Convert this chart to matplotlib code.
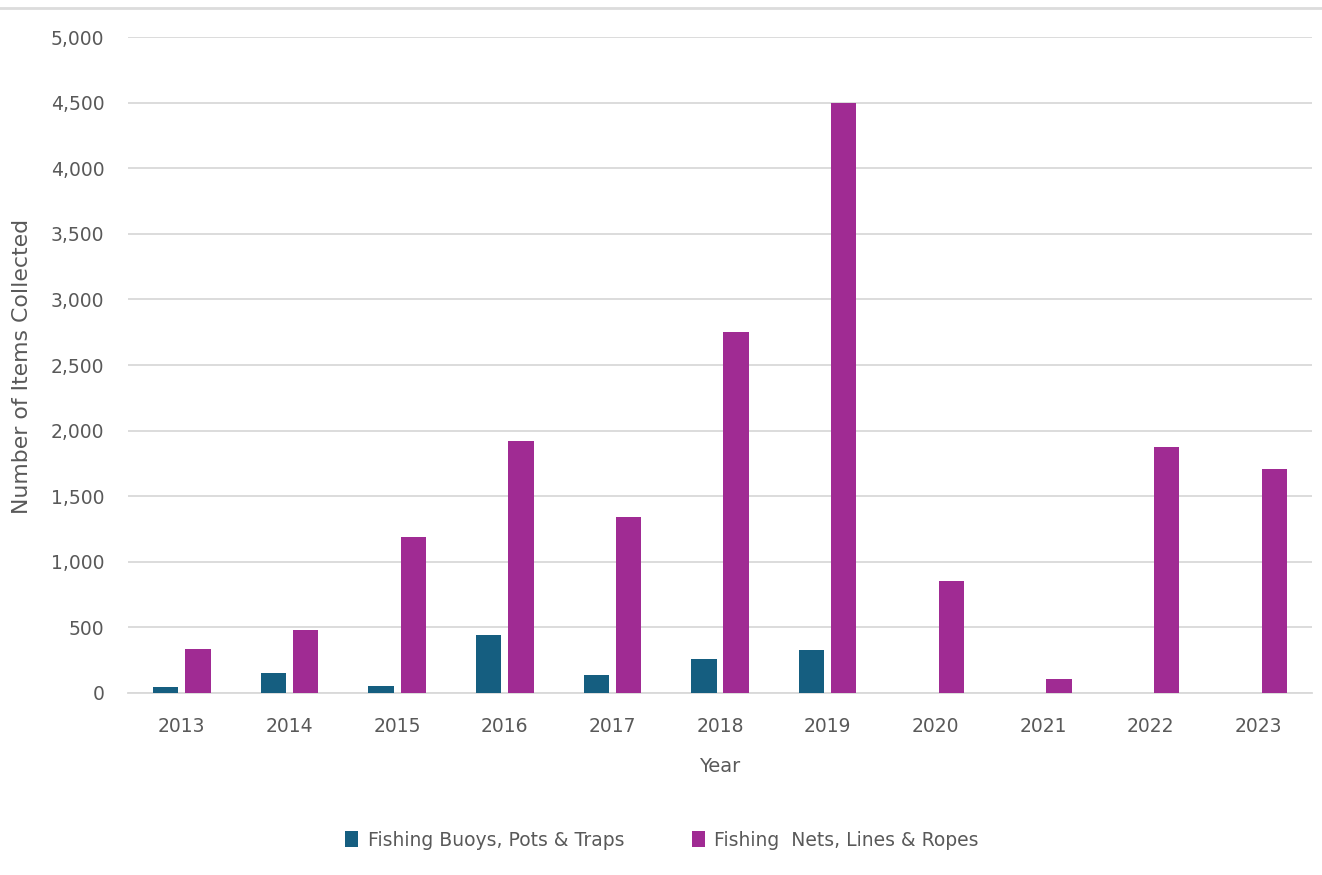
import matplotlib
matplotlib.use("Agg")
import matplotlib.pyplot as plt
import numpy as np

years = ["2013", "2014", "2015", "2016", "2017", "2018", "2019", "2020", "2021", "2022", "2023"]
buoys = [45, 155, 53, 440, 135, 257, 328, 0, 0, 0, 0]
nets = [338, 478, 1189, 1921, 1341, 2751, 4497, 851, 107, 1875, 1707]
series_names = ["Fishing Buoys, Pots & Traps", "Fishing  Nets, Lines & Ropes"]
yticks = [0, 500, 1000, 1500, 2000, 2500, 3000, 3500, 4000, 4500, 5000]

plt.rcParams['font.family'] = ['DejaVu Sans']
fig = plt.figure(figsize=(13.22, 8.75), dpi=100)
ax = fig.add_axes([128/1322, 1 - 693/875, (1312-128)/1322, (693-37)/875])

x = np.arange(len(years))
w = 0.235
c1 = "#155E80"
c2 = "#A02B93"
ax.bar(x - 0.15, buoys, w, color=c1, label=series_names[0], zorder=3)
ax.bar(x + 0.15, nets, w, color=c2, label=series_names[1], zorder=3)

ax.set_xlim(-0.5, len(years) - 0.5)
ax.set_ylim(0, 5000)
ax.set_yticks(yticks)
ax.set_yticklabels([f"{v:,}" for v in yticks])
ax.set_xticks(x)
ax.set_xticklabels(years)
ax.grid(axis='y', color='#d9d9d9', linewidth=1.3, zorder=0)
for s in ['top', 'right', 'left']:
    ax.spines[s].set_visible(False)
ax.spines['bottom'].set_color('#d9d9d9')
ax.spines['bottom'].set_linewidth(1.3)
ax.tick_params(axis='both', length=0, labelsize=13.5, colors='#595959')
ax.tick_params(axis='x', pad=17)
ax.tick_params(axis='y', pad=17)
ax.set_xlabel("Year", fontsize=14, color='#595959', va='center')
ax.xaxis.set_label_coords(0.5, (693 - 767) / 656)
ax.set_ylabel("Number of Items Collected", fontsize=15.8, color='#595959', va='center')
ax.yaxis.set_label_coords(-(128 - 22) / 1184, (693 - 366) / 656)

leg = fig.legend(loc='center', bbox_to_anchor=(662/1322, 1 - 840/875), ncol=2, frameon=False,
                 fontsize=13.5, handlelength=0.7, handleheight=0.9, columnspacing=3.6, handletextpad=0.5)
for t in leg.get_texts():
    t.set_color('#595959')

fig.add_artist(plt.Line2D([0, 1], [1 - 8/875, 1 - 8/875], color='#dcdcdc', linewidth=2.0, transform=fig.transFigure))

fig.savefig("out.png", dpi=100, facecolor='white')
